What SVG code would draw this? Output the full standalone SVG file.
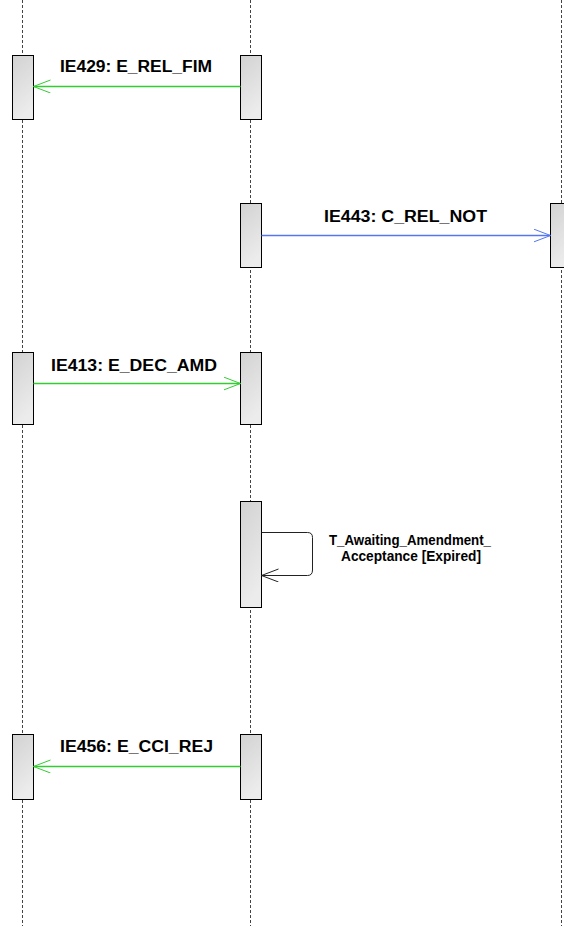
<svg xmlns="http://www.w3.org/2000/svg" width="564" height="926" viewBox="0 0 564 926">
<defs>
<linearGradient id="bg" x1="0" y1="0" x2="0.3" y2="1">
<stop offset="0" stop-color="#d2d2d2"/>
<stop offset="1" stop-color="#ececec"/>
</linearGradient>
<marker id="ag" markerWidth="20" markerHeight="14" refX="17" refY="6.5" orient="auto" markerUnits="userSpaceOnUse">
<path d="M0,0 L17,6.5 L0,13" fill="none" stroke="#33cc33" stroke-width="1"/>
</marker>
<marker id="ab" markerWidth="20" markerHeight="14" refX="17" refY="6.5" orient="auto" markerUnits="userSpaceOnUse">
<path d="M0,0 L17,6.5 L0,13" fill="none" stroke="#5577ee" stroke-width="1"/>
</marker>
<marker id="ak" markerWidth="20" markerHeight="14" refX="17" refY="6.5" orient="auto" markerUnits="userSpaceOnUse">
<path d="M0,0 L17,6.5 L0,13" fill="none" stroke="#222" stroke-width="1"/>
</marker>
</defs>
<style>
.life{stroke:#444;stroke-width:1;stroke-dasharray:3,2;fill:none}
.act{fill:url(#bg);stroke:#000;stroke-width:1}
.lbl{font-family:"Liberation Sans",Arial,sans-serif;font-weight:bold;font-size:16px;fill:#000}
.slbl{font-family:"Liberation Sans",Arial,sans-serif;font-weight:bold;font-size:14px;fill:#000}
.g{stroke:#33cc33;stroke-width:1.3;fill:none;marker-end:url(#ag)}
.b{stroke:#5577ee;stroke-width:1.3;fill:none;marker-end:url(#ab)}
.k{stroke:#222;stroke-width:1;fill:none;marker-end:url(#ak)}
</style>
<rect width="564" height="926" fill="#fff"/>
<g id="lifelines">
<line class="life" x1="22.5" y1="0" x2="22.5" y2="926"/>
<line class="life" x1="250.5" y1="0" x2="250.5" y2="926"/>
<line class="life" x1="561.5" y1="0" x2="561.5" y2="926"/>
</g>
<g id="act-a1"><rect class="act" x="12.5" y="55.5" width="21" height="64"/></g>
<g id="act-b1"><rect class="act" x="240.5" y="55.5" width="21" height="64"/></g>
<g id="act-b2"><rect class="act" x="240.5" y="203.5" width="21" height="64"/></g>
<g id="act-c2"><rect class="act" x="550.5" y="203.5" width="21" height="64"/></g>
<g id="act-a3"><rect class="act" x="12.5" y="352.5" width="21" height="72"/></g>
<g id="act-b3"><rect class="act" x="240.5" y="352.5" width="21" height="72"/></g>
<g id="act-b4"><rect class="act" x="240.5" y="501.5" width="21" height="106"/></g>
<g id="act-a5"><rect class="act" x="12.5" y="734.5" width="21" height="65"/></g>
<g id="act-b5"><rect class="act" x="240.5" y="734.5" width="21" height="65"/></g>
<g id="connectors">
<line class="g" x1="240.5" y1="86.5" x2="33.5" y2="86.5"/>
<line class="b" x1="261.5" y1="235.5" x2="550.5" y2="235.5"/>
<line class="g" x1="33.5" y1="383.5" x2="240.5" y2="383.5"/>
<path class="k" d="M261.5,532.5 H307.5 Q312.5,532.5 312.5,537.5 V570 Q312.5,575.5 307.5,575.5 H261.5"/>
<line class="g" x1="240.5" y1="766.5" x2="33.5" y2="766.5"/>
</g>
<g id="labels">
<text class="lbl" x="60" y="72" textLength="152" lengthAdjust="spacingAndGlyphs">IE429: E_REL_FIM</text>
<text class="lbl" x="324" y="222" textLength="163" lengthAdjust="spacingAndGlyphs">IE443: C_REL_NOT</text>
<text class="lbl" x="51" y="371" textLength="166" lengthAdjust="spacingAndGlyphs">IE413: E_DEC_AMD</text>
<text class="slbl" x="329" y="545" textLength="162" lengthAdjust="spacingAndGlyphs">T_Awaiting_Amendment_</text>
<text class="slbl" x="341" y="561" textLength="140" lengthAdjust="spacingAndGlyphs">Acceptance [Expired]</text>
<text class="lbl" x="60" y="752" textLength="153" lengthAdjust="spacingAndGlyphs">IE456: E_CCI_REJ</text>
</g>
</svg>
